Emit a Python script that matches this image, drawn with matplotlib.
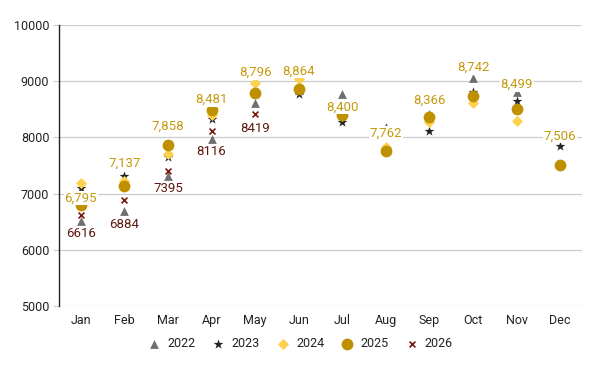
import matplotlib
matplotlib.use("Agg")
import matplotlib.pyplot as plt
import numpy as np

plt.rcParams['font.family'] = ['Roboto', 'DejaVu Sans']

months = ["Jan", "Feb", "Mar", "Apr", "May", "Jun", "Jul", "Aug", "Sep", "Oct", "Nov", "Dec"]
y2022 = [6510, 6690, 7310, 7970, 8620, 8850, 8780, 8190, 8410, 9060, 8800, None]
y2023 = [7100, 7320, 7660, 8330, 8780, 8770, 8280, 7800, 8110, 8810, 8650, 7850]
y2024 = [7190, 7230, 7700, 8400, 8970, 9040, 8380, 7830, 8270, 8610, 8300, None]
y2025 = [6795, 7137, 7858, 8481, 8796, 8864, 8400, 7762, 8366, 8742, 8499, 7506]
y2026 = [6616, 6884, 7395, 8116, 8419, None, None, None, None, None, None, None]

yticks = [5000, 6000, 7000, 8000, 9000, 10000]

# label placement offsets (pixels, positive = up)
off25 = [7, 23, 19, 11, 20, 18, 8, 18, 17, 28, 25, 29]
off26 = [-18, -24, -17, -21, -15]

fig = plt.figure(figsize=(6, 3.71), dpi=100)
ax = fig.add_axes([0.0983, 0.1752, 0.8717, 0.7574])

x = np.arange(len(months))

def arr(v):
    return np.array([np.nan if a is None else a for a in v], dtype=float)

c22, c23, c24, c25, c26 = "#6f6f6f", "#222222", "#ffd150", "#bf9000", "#7a1a0c"
lab25, lab26 = "#c59a0e", "#5e1a10"

ax.scatter(x, arr(y2022), marker="^", s=40, color=c22, label="2022", zorder=3, linewidths=0)
ax.scatter(x, arr(y2023), marker="*", s=55, color=c23, label="2023", zorder=3, linewidths=0)
ax.scatter(x, arr(y2024), marker="D", s=32, color=c24, label="2024", zorder=3, linewidths=0)
ax.scatter(x, arr(y2025), marker="o", s=72, color=c25, label="2025", zorder=4, linewidths=0)
ax.scatter(x, arr(y2026), marker="x", s=18, color=c26, label="2026", zorder=5, linewidths=1.2)

pt = 0.72
for xi, v, o in zip(x, y2025, off25):
    if v is not None:
        ax.annotate(f"{v:,}", (xi, v), xytext=(0, o * pt), textcoords="offset points",
                    ha="center", va="center", fontsize=9.5, color=lab25, zorder=6,
                    bbox=dict(boxstyle="square,pad=0.05", fc="white", ec="none"))
for xi, v, o in zip(x, y2026, off26):
    if v is not None:
        ax.annotate(f"{v}", (xi, v), xytext=(0, o * pt), textcoords="offset points",
                    ha="center", va="center", fontsize=9.5, color=lab26, zorder=6)

ax.set_ylim(5000, 10000)
ax.set_xlim(-0.5, 11.5)
ax.set_yticks(yticks)
ax.set_yticklabels([str(t) for t in yticks], fontsize=9, color="#222222")
ax.set_xticks(x)
ax.set_xticklabels(months, fontsize=9, color="#222222")
ax.tick_params(axis="x", length=0, pad=6)
ax.tick_params(axis="y", length=4, color="#cccccc", pad=3)
ax.grid(axis="y", color="#cccccc", linewidth=0.9, zorder=0)
ax.set_axisbelow(True)
for s in ["top", "right", "bottom"]:
    ax.spines[s].set_visible(False)
ax.spines["left"].set_color("#222222")
ax.spines["left"].set_linewidth(1.0)

leg = fig.legend(loc="center", bbox_to_anchor=(0.5, 0.073), ncol=5, frameon=False,
                 fontsize=9, handletextpad=0.5, columnspacing=1.3, handlelength=1.1)
for t in leg.get_texts():
    t.set_color("#222222")

fig.savefig("out.png", dpi=100)
